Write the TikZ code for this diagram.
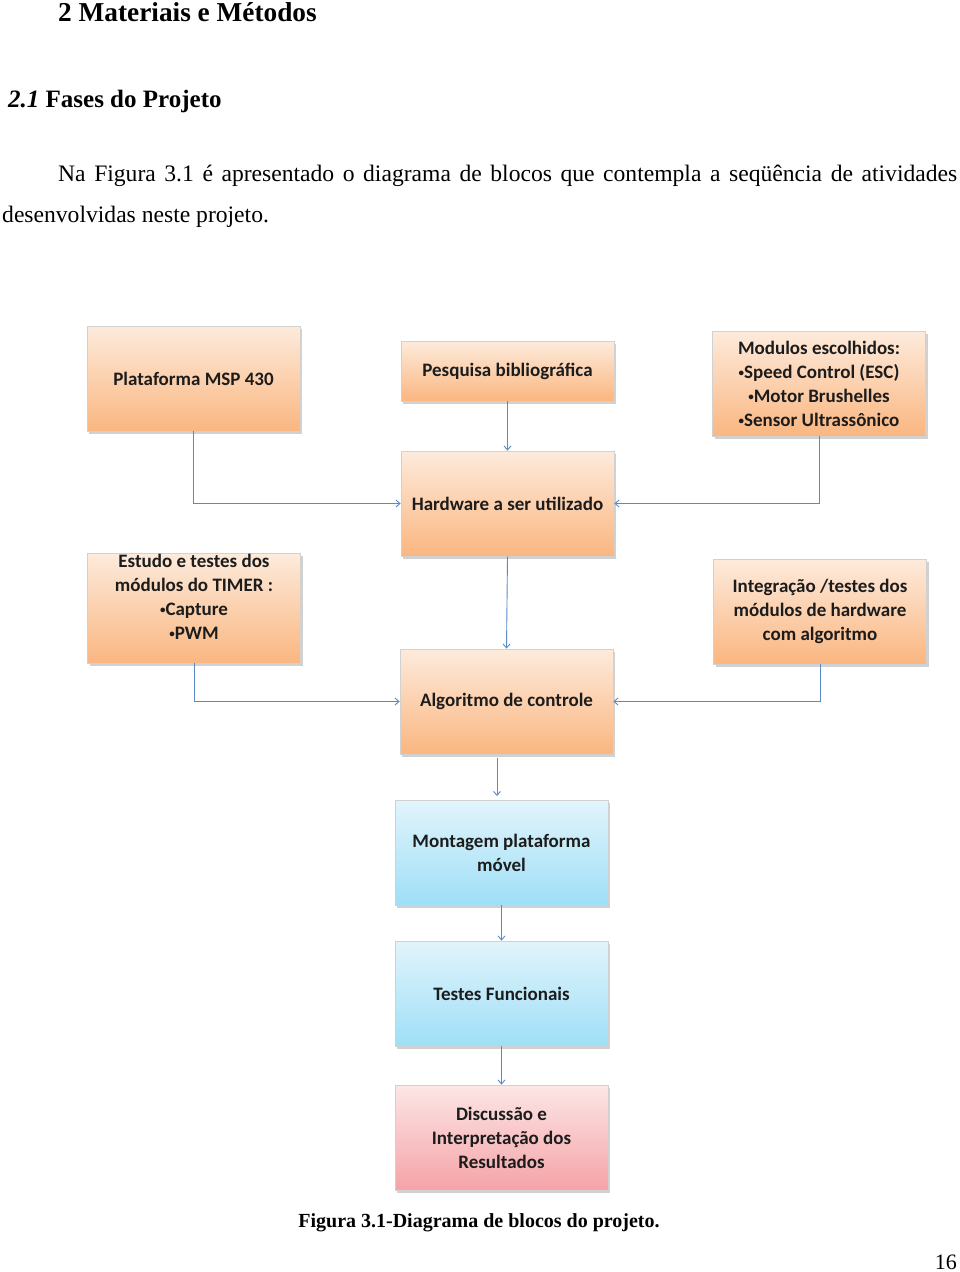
\documentclass[tikz,border=0pt]{standalone}
\usepackage{fontspec}
\setmainfont{Liberation Serif}
\newfontfamily\calfont{Carlito}
\usetikzlibrary{arrows.meta,shadows}
\definecolor{orT}{HTML}{FDEBDC}
\definecolor{orB}{HTML}{FAB680}
\definecolor{blT}{HTML}{E2F4FB}
\definecolor{blB}{HTML}{9EDFF7}
\definecolor{rdT}{HTML}{FCE6E6}
\definecolor{rdB}{HTML}{F5A3A7}
\definecolor{arr}{HTML}{5A8AC6}
\definecolor{txt}{HTML}{1C1C1C}
\newcommand\bul{\raisebox{2pt}{\fontsize{11}{11}\selectfont•}}
\tikzset{
  boxfont/.style={font=\calfont\bfseries\fontsize{19}{24}\selectfont, text=txt, align=center},
  blockbox/.style={draw=black!18, line width=0.8pt, minimum width=213pt, minimum height=105pt,
    boxfont, inner sep=2pt,
    drop shadow={shadow xshift=2pt, shadow yshift=-2.5pt, opacity=0.3, fill=black!60}},
  orbox/.style={blockbox, top color=orT, bottom color=orB},
  blbox/.style={blockbox, top color=blT, bottom color=blB},
  rdbox/.style={blockbox, top color=rdT, bottom color=rdB},
  link/.style={draw=arr, line width=0.9pt, -{Straight Barb[length=4pt,width=7pt]}},
  plain/.style={inner sep=0pt, anchor=base west}
}
\begin{document}
\begin{tikzpicture}[x=1pt,y=-1pt]
\useasboundingbox (0,0) rectangle (960,1272);
% header texts
\node[plain, font=\bfseries\fontsize{27.3}{30}\selectfont] (h1) at (58,21) {2 Materiais e Métodos};
\node[plain, font=\bfseries\fontsize{25}{28}\selectfont] (h2) at (8,107) {\textit{2.1} Fases do Projeto};
\node[plain, font=\fontsize{23.6}{26}\selectfont] (p1) at (58,181) {\makebox[899pt][s]{Na Figura 3.1 é apresentado o diagrama de blocos que contempla a seqüência de atividades}};
\node[plain, font=\fontsize{23.6}{26}\selectfont] (p2) at (2,222) {desenvolvidas neste projeto.};
% boxes
\node[orbox] (msp) at (193.5,378.5) {Plataforma MSP 430};
\node[orbox, minimum height=60pt] (pes) at (507.5,371) {Pesquisa bibliográfica};
\node[orbox] (mod) at (819,383.5) {Modulos escolhidos:\\\bul Speed Control (ESC)\\\bul Motor Brushelles\\\bul Sensor Ultrassônico};
\node[orbox] (hw) at (507.5,503.5) {Hardware a ser utilizado};
\node[orbox, minimum height=110pt,
  label={[boxfont, yshift=11pt]center:Estudo e testes dos\\módulos do TIMER :\\\bul Capture\\\bul PWM}] (est) at (194,608) {};
\node[orbox] (int) at (820,611.5) {Integração /testes dos\\módulos de hardware\\com algoritmo};
\node[orbox] (alg) at (506.5,701.5) {Algoritmo de controle};
\node[blbox] (mon) at (501.5,852.5) {Montagem plataforma\\móvel};
\node[blbox] (tes) at (501.5,993.5) {Testes Funcionais};
\node[rdbox] (dis) at (501.5,1137.5) {Discussão e\\Interpretação dos\\Resultados};
% connectors
\coordinate (a1) at (497,758);
\coordinate (a2) at (497,796);
\draw[link] (msp.south) |- (hw.west);
\draw[link] (mod.south) |- (hw.east);
\draw[link] (pes.south) -- (hw.north);
\draw[link] (hw.south) -- (alg.north);
\draw[link] (est.south) |- (alg.west);
\draw[link] (int.south) |- (alg.east);
\draw[link] (a1) -- (a2);
\draw[link] (mon.south) -- (tes.north);
\draw[link] (tes.south) -- (dis.north);
% caption and page number
\node[inner sep=0pt, anchor=base, font=\bfseries\fontsize{20}{24}\selectfont] (cap) at (479,1227) {Figura 3.1-Diagrama de blocos do projeto.};
\node[inner sep=0pt, anchor=base east, font=\fontsize{22}{26}\selectfont] (pg) at (957,1269) {16};
\end{tikzpicture}
\end{document}
